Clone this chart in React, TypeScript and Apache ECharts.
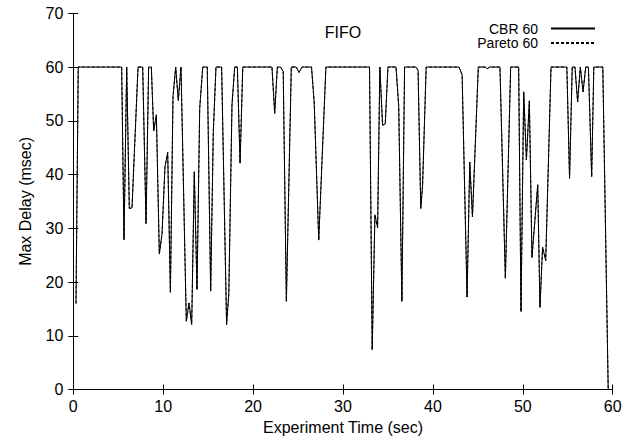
import React, { useEffect, useRef } from "react";
import * as echarts from "echarts";

const timeSec = [
  0.3, 0.55, 5.38, 5.64, 5.94, 6.23, 6.53, 7.2, 7.72, 8.09, 8.38, 8.68, 8.94, 9.24, 9.57, 9.87,
  10.2, 10.5, 10.8, 11.09, 11.39, 11.68, 11.98, 12.57, 12.87, 13.17, 13.46, 13.76, 14.06, 14.4,
  14.9, 15.28, 15.57, 15.87, 16.5, 17.05, 17.3, 17.65, 17.95, 18.25, 18.55, 18.85, 22.1, 22.4,
  22.7, 23.05, 23.35, 23.7, 24.25, 24.8, 25.1, 25.45, 26.5, 26.8, 27.3, 28.1, 32.95, 33.25,
  33.55, 33.85, 34.1, 34.4, 34.7, 35.0, 35.9, 36.2, 36.55, 36.85, 38.1, 38.35, 38.65, 38.85,
  39.25, 42.9, 43.25, 43.8, 44.1, 44.4, 45.05, 45.8, 46.05, 46.3, 47.46, 48.06, 48.65, 49.54,
  49.8, 50.1, 50.4, 50.73, 51.02, 51.66, 51.91, 52.2, 52.55, 53.14, 54.9, 55.2, 55.5, 55.8,
  56.1, 56.4, 56.7, 57.0, 57.3, 57.66, 57.9, 58.9, 59.5,
];

const cbrDelay = [
  16, 60, 60, 27.9, 60, 33.7, 33.8, 60, 60, 30.9, 60, 60, 48.1, 51.1, 25.2, 29,
  41.5, 44.1, 18.1, 54.5, 60, 53.8, 60, 12.7, 16.1, 12.1, 40.5, 18.6, 52.3, 60,
  60, 18.3, 47.7, 60, 60, 12.1, 17.8, 52.9, 60, 60, 42.1, 60, 60, 51.4,
  60, 60, 59.2, 16.4, 60, 60, 59, 60, 60, 53.3, 27.8, 60, 60, 7.4,
  32.5, 30.1, 60, 49.2, 49.4, 60, 60, 52.6, 16.4, 60, 60, 59.4, 33.7, 37.8,
  60, 60, 58.6, 17.2, 42.3, 32.1, 60, 60, 59.7, 60, 60, 20.7, 60, 60,
  14.5, 55.4, 42.7, 53.7, 24.6, 38.1, 15.3, 26.5, 24.0, 60, 60, 39.3, 60, 60,
  53.5, 60, 55.4, 60, 60, 39.6, 60, 60, 0,
];

const paretoDelay = [
  16, 60, 60, 27.9, 60, 33.7, 33.8, 60, 60, 30.9, 60, 60, 48.1, 51.1, 25.2, 29,
  41.5, 44.1, 18.1, 54.5, 60, 53.8, 60, 12.7, 16.1, 12.1, 40.5, 18.6, 52.3, 60,
  60, 18.3, 47.7, 60, 60, 12.1, 17.8, 52.9, 60, 60, 42.1, 60, 60, 51.4,
  60, 60, 59.2, 16.4, 60, 60, 59, 60, 60, 53.3, 27.8, 60, 60, 7.4,
  32.5, 30.1, 60, 49.2, 49.4, 60, 60, 52.6, 16.4, 60, 60, 59.4, 33.7, 37.8,
  60, 60, 58.6, 17.2, 42.3, 32.1, 60, 60, 59.7, 60, 60, 20.7, 60, 60,
  14.5, 55.4, 42.7, 53.7, 24.6, 38.1, 15.3, 26.5, 24.0, 60, 60, 39.3, 60, 60,
  53.5, 60, 55.4, 60, 60, 39.6, 60, 60, 0,
];

const seriesNames = ["CBR 60", "Pareto 60"];
const chartTitle = "FIFO";
const xAxisName = "Experiment Time (sec)";
const yAxisName = "Max Delay (msec)";

const FONT = "'Liberation Sans', Arial, Helvetica, sans-serif";
const FS = 16;
const LEGEND_FS = 14;

export default function App() {
  const ref = useRef<HTMLDivElement>(null);

  useEffect(() => {
    if (!ref.current) return;
    const chart = echarts.init(ref.current, undefined, { renderer: "svg" });
    const cbr = timeSec.map((t, i) => [t, cbrDelay[i]]);
    const par = timeSec.map((t, i) => [t, paretoDelay[i]]);
    const axisLine = { show: true, lineStyle: { color: "#000", width: 1 } };
    const axisTick = { show: true, inside: true, length: 5, lineStyle: { color: "#000", width: 1 } };
    const labelStyle = { color: "#000", fontFamily: FONT, fontSize: FS };
    chart.setOption({
      animation: false,
      backgroundColor: "#fff",
      textStyle: { fontFamily: FONT },
      title: {
        text: chartTitle,
        left: 338,
        top: 19,
        textAlign: "center",
        textStyle: { color: "#000", fontWeight: "normal", fontFamily: FONT, fontSize: FS },
      },
      legend: {
        orient: "vertical",
        right: 29,
        top: 21.5,
        padding: 0,
        align: "right",
        itemWidth: 44,
        itemHeight: 10,
        itemGap: 0.5,
        itemStyle: { opacity: 0 },
        textStyle: {
          color: "#000",
          fontFamily: FONT,
          fontSize: LEGEND_FS,
          padding: [0, 8, 0, 0],
        },
        data: seriesNames,
      },
      grid: { left: 73.3, right: 12.3, top: 13.3, bottom: 53.5, containLabel: false },
      xAxis: [
        {
          type: "value",
          min: 0,
          max: 60,
          interval: 10,
          name: xAxisName,
          nameLocation: "middle",
          nameGap: 26,
          nameTextStyle: labelStyle,
          axisLine,
          axisTick,
          splitLine: { show: false },
          axisLabel: { ...labelStyle, margin: 9 },
        },
        {
          type: "value",
          position: "top",
          min: 0,
          max: 60,
          interval: 10,
          axisLine,
          axisTick,
          splitLine: { show: false },
          axisLabel: { show: false },
        },
      ],
      yAxis: [
        {
          type: "value",
          min: 0,
          max: 70,
          interval: 10,
          name: yAxisName,
          nameLocation: "middle",
          nameGap: 40,
          nameTextStyle: labelStyle,
          axisLine,
          axisTick,
          splitLine: { show: false },
          axisLabel: { ...labelStyle, margin: 10 },
        },
        {
          type: "value",
          position: "right",
          min: 0,
          max: 70,
          interval: 10,
          axisLine,
          axisTick,
          splitLine: { show: false },
          axisLabel: { show: false },
        },
      ],
      series: [
        {
          name: seriesNames[0],
          type: "line",
          data: cbr,
          symbol: "none",
          lineStyle: { color: "#000", width: 1, type: "solid" },
          itemStyle: { color: "#000" },
          z: 2,
        },
        {
          name: seriesNames[1],
          type: "line",
          data: par,
          symbol: "none",
          lineStyle: { color: "#000", width: 1, type: [3, 2] },
          itemStyle: { color: "#000" },
          z: 3,
        },
      ],
    });
    return () => chart.dispose();
  }, []);

  return (
    <div
      ref={ref}
      style={{ position: "absolute", left: 0, top: 0, width: 625, height: 443 }}
    />
  );
}
